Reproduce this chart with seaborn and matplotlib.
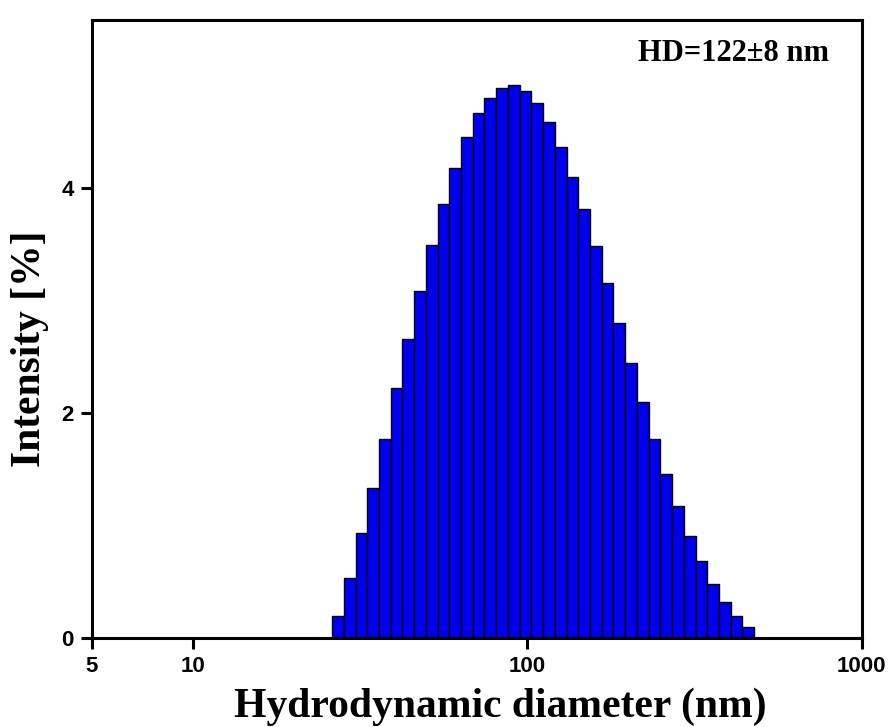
import numpy as np
import pandas as pd
import seaborn as sns
import matplotlib
matplotlib.use("Agg")
import matplotlib.pyplot as plt
from matplotlib.ticker import FixedLocator, NullLocator, FixedFormatter

# Size classes (bin centres, nm) and intensity (%)
diameter_nm = [27.19, 29.47, 31.94, 34.62, 37.53, 40.68, 44.10, 47.81, 51.83,
               56.19, 60.91, 66.03, 71.58, 77.60, 84.13, 91.20, 98.86, 107.2,
               116.2, 126.0, 136.5, 148.0, 160.5, 174.0, 188.6, 204.4, 221.6,
               240.3, 260.4, 282.3, 306.1, 331.8, 359.7, 389.9, 422.7, 458.2]
intensity_pct = [0.20, 0.53, 0.93, 1.33, 1.77, 2.22, 2.66, 3.08, 3.49,
                 3.86, 4.18, 4.45, 4.66, 4.80, 4.89, 4.91, 4.86, 4.75,
                 4.58, 4.36, 4.10, 3.81, 3.48, 3.15, 2.80, 2.44, 2.10,
                 1.77, 1.46, 1.17, 0.91, 0.68, 0.48, 0.32, 0.20, 0.10]
x_ticks = [5, 10, 100, 1000]
x_tick_labels = ["5", "10", "100", "1000"]
y_ticks = [0, 2, 4]
annotation = "HD=122\u00b18 nm"

df = pd.DataFrame({"d": diameter_nm, "I": intensity_pct})

sns.set_theme(style="white")
fig = plt.figure(figsize=(8.92, 7.27), dpi=100)
ax = fig.add_axes([0.103, 0.1224, 0.863, 0.850])

logd = np.log10(df["d"].values)
step = (logd[-1] - logd[0]) / (len(logd) - 1)
sns.histplot(data=df, x="d", weights="I", log_scale=True, bins=len(logd),
             binrange=(logd[0] - step / 2, logd[-1] + step / 2),
             stat="count", color="#0000ee", alpha=1.0,
             edgecolor="black", linewidth=1.0, ax=ax)

ax.set_xlim(5, 1000)
ax.set_ylim(0, 5.49)
ax.xaxis.set_major_locator(FixedLocator(x_ticks))
ax.xaxis.set_major_formatter(FixedFormatter(x_tick_labels))
ax.xaxis.set_minor_locator(NullLocator())
ax.set_yticks(y_ticks)
ax.set_yticklabels([str(v) for v in y_ticks])

for s in ax.spines.values():
    s.set_visible(True)
    s.set_color("black")
    s.set_linewidth(2.2)

ax.tick_params(axis="both", which="major", direction="out", length=8, width=2.2,
               color="black", bottom=True, left=True, top=False, right=False,
               labelsize=16, pad=5)
for lab in ax.get_xticklabels() + ax.get_yticklabels():
    lab.set_fontfamily("Liberation Sans")
    lab.set_fontweight("bold")
    lab.set_color("black")

ax.set_xlabel("Hydrodynamic diameter (nm)", fontfamily="Liberation Serif",
              fontweight="bold", fontsize=30, color="black", va="center")
ax.xaxis.set_label_coords(0.531, -0.112)
ax.set_ylabel("Intensity [%]", fontfamily="Liberation Serif",
              fontweight="bold", fontsize=30, color="black", va="center")
ax.yaxis.set_label_coords(-0.081, 0.468)

ax.text(0.958, 0.946, annotation, transform=ax.transAxes, ha="right", va="center",
        fontfamily="Liberation Serif", fontweight="bold", fontsize=22, color="black")

fig.savefig("out.png", dpi=100)
